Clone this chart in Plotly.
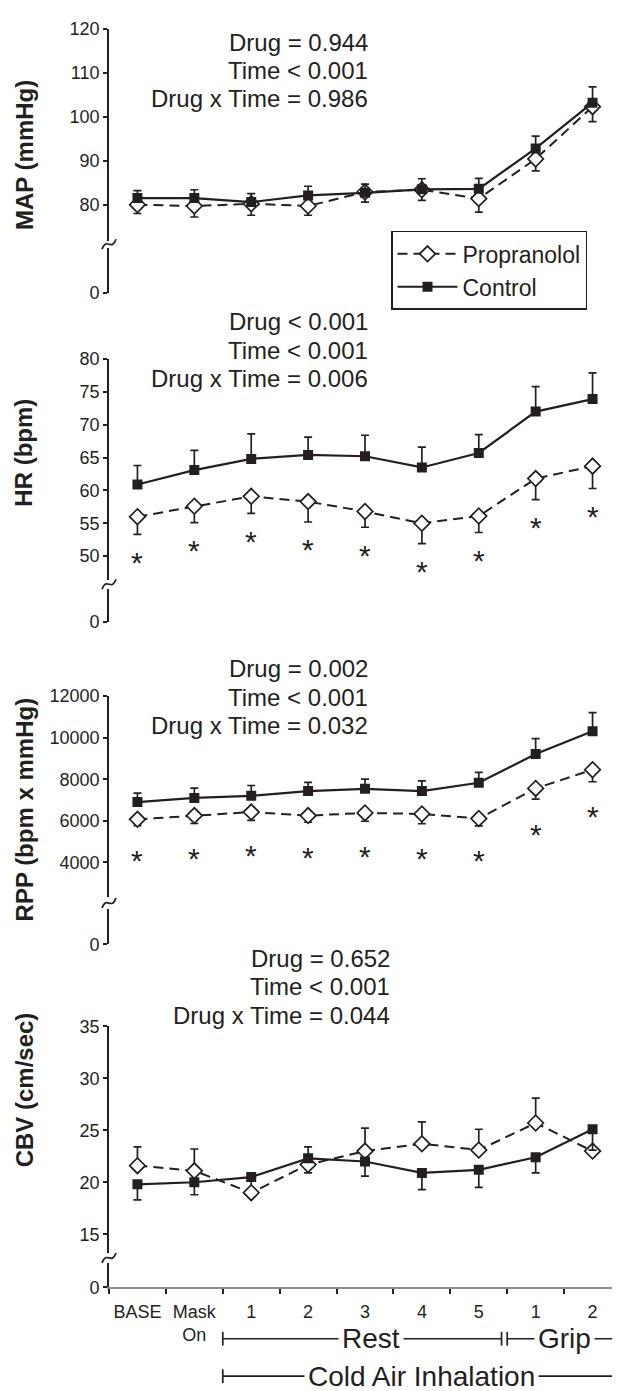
import plotly.graph_objects as go

W, H = 620, 1391
FONT = "Liberation Sans, Arial, sans-serif"
INK = "#231f20"

# ── Data ──────────────────────────────────────────────────────────────────────
stages = ["BASE", "Mask<br>On", "1", "2", "3", "4", "5", "1", "2"]

map_ctrl = [81.5, 81.5, 80.6, 82.1, 82.7, 83.5, 83.6, 92.8, 103.2]
map_ctrl_sem = [1.7, 1.9, 1.9, 2.1, 2.0, 2.4, 2.4, 2.8, 3.6]
map_prop = [80.0, 79.7, 80.2, 79.7, 82.9, 83.4, 81.4, 90.4, 102.3]
map_prop_sem = [2.0, 2.5, 2.6, 2.1, 2.3, 2.4, 3.1, 2.7, 3.4]

hr_ctrl = [60.9, 63.1, 64.8, 65.4, 65.2, 63.5, 65.7, 72.0, 73.9]
hr_ctrl_sem = [2.9, 3.0, 3.8, 2.7, 3.2, 3.1, 2.8, 3.8, 4.0]
hr_prop = [56.0, 57.6, 59.1, 58.3, 56.8, 55.0, 56.1, 61.8, 63.7]
hr_prop_sem = [2.7, 2.5, 2.6, 3.1, 2.4, 3.1, 2.5, 3.2, 3.4]

rpp_ctrl = [6900, 7100, 7200, 7430, 7540, 7430, 7830, 9210, 10310]
rpp_ctrl_sem = [430, 470, 500, 420, 470, 490, 500, 740, 900]
rpp_prop = [6070, 6250, 6420, 6250, 6380, 6330, 6110, 7560, 8460]
rpp_prop_sem = [300, 380, 400, 320, 400, 470, 350, 520, 580]

cbv_ctrl = [19.8, 20.0, 20.5, 22.3, 22.0, 20.9, 21.2, 22.4, 25.1]
cbv_ctrl_sem = [1.5, 1.2, 0.4, 1.1, 1.4, 1.6, 1.7, 1.5, 2.0]
cbv_prop = [21.6, 21.1, 19.0, 21.7, 23.0, 23.7, 23.1, 25.7, 23.0]
cbv_prop_sem = [1.8, 2.1, 1.2, 0.8, 2.2, 2.1, 2.0, 2.4, 0.3]
# +1: control bar drawn upward (propranolol bar downward), -1: reversed
cbv_side = [-1, -1, -1, 1, -1, -1, -1, -1, -1]

stats = {
    "MAP": ["Drug = 0.944", "Time < 0.001", "Drug x Time = 0.986"],
    "HR": ["Drug < 0.001", "Time < 0.001", "Drug x Time = 0.006"],
    "RPP": ["Drug = 0.002", "Time < 0.001", "Drug x Time = 0.032"],
    "CBV": ["Drug = 0.652", "Time < 0.001", "Drug x Time = 0.044"],
}


def py(p):
    return 1 - p / H


# panel layout in pixels: main axis (bottom, top), lower axis (top, bottom)
panels = [
    dict(key="MAP", title="MAP (mmHg)", ctrl=map_ctrl, cs=map_ctrl_sem, prop=map_prop, ps=map_prop_sem,
         side=[1] * 9, main=(226, 11), low=(233, 279), rng=[71.8, 120], ticks=[80, 90, 100, 110, 120],
         star_shift=0, stat_y=(25, 53, 82), stat_x=362, title_y=139),
    dict(key="HR", title="HR (bpm)", ctrl=hr_ctrl, cs=hr_ctrl_sem, prop=hr_prop, ps=hr_prop_sem,
         side=[1] * 9, main=(570, 346), low=(579, 613), rng=[46.4, 80], ticks=[50, 55, 60, 65, 70, 75, 80],
         star_shift=-28, stat_y=(308, 337, 366), stat_x=362, title_y=441),
    dict(key="RPP", title="RPP (bpm x mmHg)", ctrl=rpp_ctrl, cs=rpp_ctrl_sem, prop=rpp_prop, ps=rpp_prop_sem,
         side=[1] * 9, main=(892, 688), low=(904, 940), rng=[2326, 12000],
         ticks=[4000, 6000, 8000, 10000, 12000],
         star_shift=-35, stat_y=(660, 689, 718), stat_x=362, title_y=803),
    dict(key="CBV", title="CBV (cm/sec)", ctrl=cbv_ctrl, cs=cbv_ctrl_sem, prop=cbv_prop, ps=cbv_prop_sem,
         side=cbv_side, main=(1253, 1023), low=(1263, 1288), rng=[13.2, 35], ticks=[15, 20, 25, 30, 35],
         star_shift=0, stat_y=(954, 983, 1012), stat_x=384, title_y=1088),
]

fig = go.Figure()
xs = list(range(len(stages)))
annotations = []
shapes = []
axis_common = dict(showline=True, linecolor=INK, linewidth=1.7, ticks="outside", ticklen=4,
                   tickwidth=1.5, tickcolor=INK, showgrid=False, zeroline=False, tickformat="d",
                   tickfont=dict(size=18, color=INK, family=FONT), anchor="x")

for k, p in enumerate(panels):
    ym = "y" if k == 0 else f"y{2 * k + 1}"
    yl = f"y{2 * k + 2}"
    side = p["side"]
    c_up = [s if d > 0 else 0 for s, d in zip(p["cs"], side)]
    c_dn = [s if d < 0 else 0 for s, d in zip(p["cs"], side)]
    p_up = [s if d < 0 else 0 for s, d in zip(p["ps"], side)]
    p_dn = [s if d > 0 else 0 for s, d in zip(p["ps"], side)]
    err = dict(type="data", symmetric=False, width=4, thickness=1.7, color=INK)

    fig.add_trace(go.Scatter(
        x=xs, y=p["prop"], yaxis=ym, name="Propranolol", showlegend=(k == 0),
        mode="lines+markers", line=dict(color=INK, width=2, dash="10px,6px"),
        marker=dict(symbol="diamond", size=12, color="white", line=dict(color=INK, width=1.7)),
        error_y=dict(err, array=p_up, arrayminus=p_dn)))
    fig.add_trace(go.Scatter(
        x=xs, y=p["ctrl"], yaxis=ym, name="Control", showlegend=(k == 0),
        mode="lines+markers", line=dict(color=INK, width=2.2),
        marker=dict(symbol="square", size=10, color=INK, line=dict(color=INK, width=0)),
        error_y=dict(err, array=c_up, arrayminus=c_dn)))

    main_key = "yaxis" if k == 0 else f"yaxis{2 * k + 1}"
    fig.update_layout({
        main_key: dict(axis_common, domain=[py(p["main"][0]), py(p["main"][1])],
                       range=p["rng"], tickvals=p["ticks"]),
        f"yaxis{2 * k + 2}": dict(axis_common, domain=[py(p["low"][1]), py(p["low"][0])],
                                  range=[0, 1], tickvals=[0]),
    })
    # empty trace so the lower (broken) axis segment gets drawn
    fig.add_trace(go.Scatter(x=[], y=[], yaxis=yl, showlegend=False, hoverinfo="skip"))

    # axis break squiggle
    c = (p["main"][0] + p["low"][0]) / 2
    pts = [(94, c + 5), (99, c - 8), (103, c + 8), (108, c - 5)]
    path = "M {:.5f},{:.5f} C {:.5f},{:.5f} {:.5f},{:.5f} {:.5f},{:.5f}".format(
        *[v for (a, b) in pts for v in (a / W, py(b))])
    shapes.append(dict(type="path", path=path, xref="paper", yref="paper",
                       line=dict(color=INK, width=1.7)))

    for line, sy in zip(stats[p["key"]], p["stat_y"]):
        annotations.append(dict(text=line, x=p["stat_x"] / W, y=py(sy), xref="paper", yref="paper",
                                xanchor="right", yanchor="middle", showarrow=False,
                                font=dict(size=24, color=INK, family=FONT)))

    annotations.append(dict(text=f"<b>{p['title']}</b>", x=16 / W, y=py(p["title_y"]),
                            xref="paper", yref="paper", textangle=-90, showarrow=False,
                            xanchor="center", yanchor="middle",
                            font=dict(size=24, color=INK, family=FONT)))

    if p["star_shift"]:
        for i in xs:
            annotations.append(dict(text="*", x=i, y=p["prop"][i] - p["ps"][i], xref="x", yref=ym,
                                    yanchor="middle", showarrow=False, yshift=p["star_shift"],
                                    font=dict(size=30, color=INK, family=FONT)))

# ── Bottom brackets ───────────────────────────────────────────────────────────
brackets = [("Rest", 1.5, 6.4, 1340, 4.1), ("Grip", 6.5, 8.45, 1340, 7.5),
            ("Cold Air Inhalation", 1.5, 8.45, 1378, 5.0)]
for label, x0, x1, yb, xt in brackets:
    shapes.append(dict(type="line", xref="x", yref="paper", x0=x0, x1=x1, y0=py(yb), y1=py(yb),
                       line=dict(color=INK, width=1.7)))
    for xe in (x0, x1):
        shapes.append(dict(type="line", xref="x", yref="paper", x0=xe, x1=xe,
                           y0=py(yb - 7), y1=py(yb + 7), line=dict(color=INK, width=1.7)))
    annotations.append(dict(text=label, x=xt, y=py(yb), xref="x", yref="paper", showarrow=False,
                            xanchor="center", yanchor="middle", bgcolor="white", borderpad=3,
                            font=dict(size=28, color=INK, family=FONT)))

fig.update_layout(
    width=W, height=H, margin=dict(l=0, r=0, t=0, b=0),
    paper_bgcolor="white", plot_bgcolor="white",
    font=dict(family=FONT, color=INK),
    xaxis=dict(domain=[101 / W, 1], range=[-0.5, 8.623], anchor="y8",
               showline=True, linecolor="#8c8c8c", linewidth=1.7, showgrid=False, zeroline=False,
               tickvals=xs, ticktext=stages, ticks="", ticklabelstandoff=7,
               tickfont=dict(size=18, color=INK, family=FONT),
               minor=dict(tickmode="array", tickvals=[i - 0.5 for i in range(10)],
                          ticks="outside", ticklen=5, tickwidth=1.6, tickcolor=INK, showgrid=False)),
    legend=dict(x=383 / W, y=py(216), xanchor="left", yanchor="top", bgcolor="white",
                bordercolor=INK, borderwidth=1.5, font=dict(size=23, color=INK, family=FONT),
                tracegroupgap=0, itemwidth=60, entrywidth=190, entrywidthmode="pixels"),
    annotations=annotations, shapes=shapes,
)

fig.write_html("out.html")
